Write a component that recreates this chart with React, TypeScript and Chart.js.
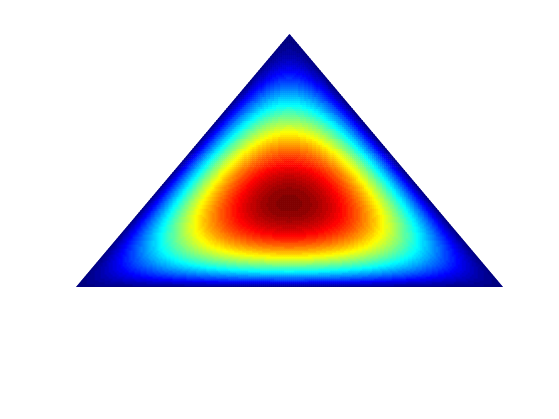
import React, { useEffect, useRef } from "react";
import { Chart, registerables } from "chart.js";

Chart.register(...registerables);

// Dirichlet concentration parameters for the three simplex corners: top, left, right
const alpha = [2, 2, 2];
// Simplex corners in data space: top, left, right
const cornerX = [0.5, 0, 1];
const cornerY = [1, 0, 0];
// Colormap (jet) with this many levels
const colorLevels = 64;
// Sampling grid of the simplex
const gridCols = 214;
const gridRows = 127;

function clamp01(v: number) {
  return Math.max(0, Math.min(1, v));
}

function jet(v: number) {
  const q = Math.round(clamp01(v) * (colorLevels - 1)) / (colorLevels - 1);
  const r = clamp01(1.5 - Math.abs(4 * q - 3));
  const g = clamp01(1.5 - Math.abs(4 * q - 2));
  const b = clamp01(1.5 - Math.abs(4 * q - 1));
  return `rgb(${Math.round(r * 255)},${Math.round(g * 255)},${Math.round(b * 255)})`;
}

function buildCells() {
  const points: { x: number; y: number }[] = [];
  const dens: number[] = [];
  const tol = 1.5 / gridCols;
  for (let j = 0; j <= gridRows; j++) {
    const y = j / gridRows;
    for (let i = 0; i <= gridCols; i++) {
      const x = i / gridCols;
      const t = y;
      const b = 1 - x - y / 2;
      const c = x - y / 2;
      if (b < -tol || c < -tol) continue;
      const d =
        Math.pow(Math.max(t, 0), alpha[0] - 1) *
        Math.pow(Math.max(b, 0), alpha[1] - 1) *
        Math.pow(Math.max(c, 0), alpha[2] - 1);
      points.push({ x, y });
      dens.push(d);
    }
  }
  const maxD = Math.max(...dens);
  const colors = dens.map((d) => jet(d / maxD));
  return { points, colors };
}

const triangleClip = {
  id: "triangleClip",
  beforeDatasetsDraw(chart: any) {
    const { ctx, scales } = chart;
    ctx.save();
    ctx.beginPath();
    for (let k = 0; k < 3; k++) {
      const px = scales.x.getPixelForValue(cornerX[k]);
      const py = scales.y.getPixelForValue(cornerY[k]);
      if (k === 0) ctx.moveTo(px, py);
      else ctx.lineTo(px, py);
    }
    ctx.closePath();
    ctx.clip();
  },
  afterDatasetsDraw(chart: any) {
    chart.ctx.restore();
  },
};

export default function App() {
  const ref = useRef<HTMLCanvasElement | null>(null);
  useEffect(() => {
    if (!ref.current) return;
    const { points, colors } = buildCells();
    const chart = new Chart(ref.current, {
      type: "scatter",
      data: {
        datasets: [
          {
            data: points,
            backgroundColor: colors,
            borderWidth: 0,
            pointStyle: "rect",
            pointRadius: 1.9,
            pointHoverRadius: 1.9,
            clip: false as any,
          } as any,
        ],
      },
      options: {
        animation: false,
        responsive: false,
        parsing: false,
        normalized: true,
        events: [],
        layout: { padding: { left: 76, right: 56, top: 34, bottom: 132 } },
        plugins: { legend: { display: false }, tooltip: { enabled: false } },
        scales: {
          x: { type: "linear", min: 0, max: 1, display: false },
          y: { type: "linear", min: 0, max: 1, display: false },
        },
      } as any,
      plugins: [triangleClip],
    });
    return () => chart.destroy();
  }, []);
  return (
    <div style={{ position: "fixed", left: 0, top: 0, width: 559, height: 419, background: "#fff" }}>
      <canvas ref={ref} width={559} height={419} />
    </div>
  );
}
